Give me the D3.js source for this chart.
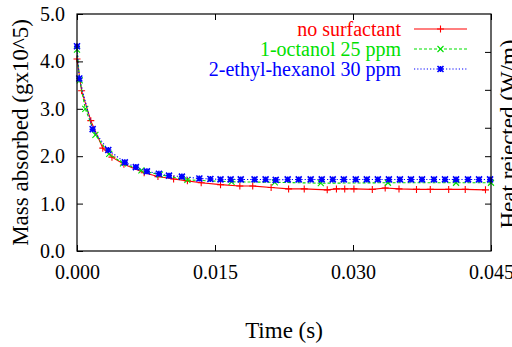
<!DOCTYPE html>
<html><head><meta charset="utf-8">
<script src="https://cdn.jsdelivr.net/npm/d3@7"></script>
<style>
html,body{margin:0;padding:0;background:#fff;}
svg text{font-family:"Liberation Serif","Times New Roman",Times,serif !important;}
</style></head>
<body><svg id="c" width="512" height="347" font-family="Liberation Serif, Times New Roman, serif"></svg>
<script>
// time in ms, values in g x10^5
const redT = [0,0.5,1.5,2.8,3.8,5.1,7.3,8.8,10.5,12.0,13.5,15.6,17.7,19.1,21.1,23.0,24.7,27.2,28.2,29.1,30.1,32.1,33.5,35.0,36.9,38.4,40.4,42.2,44.4];
const redV = [4.05,3.38,2.75,2.17,1.98,1.83,1.65,1.57,1.52,1.48,1.44,1.40,1.37,1.37,1.34,1.31,1.31,1.29,1.31,1.31,1.31,1.30,1.33,1.31,1.30,1.30,1.30,1.30,1.29];
const greenT = [0,0.3,0.9,2.0,3.5,5.0,7.0,9.0,12.0,16.8,21.5,26.5,33.8,41.2,45.0];
const greenV = [4.25,3.60,3.00,2.45,2.05,1.85,1.70,1.61,1.50,1.46,1.45,1.43,1.44,1.44,1.44];
const blueT = [0,0.25,1.7,3.4,5.2,6.4,7.6,8.9,10.0,11.4,13.3,14.5,15.6,16.7,17.8,19.3,20.5,21.6,22.9,24.1,25.4,26.6,27.8,29.0,30.3,31.5,32.7,33.9,35.1,36.3,37.5,38.8,40.0,41.2,42.5,43.7,44.9];
const blueV = [4.32,3.64,2.57,2.13,1.87,1.77,1.68,1.63,1.59,1.57,1.53,1.52,1.51,1.51,1.51,1.51,1.51,1.50,1.51,1.51,1.51,1.51,1.51,1.51,1.51,1.51,1.51,1.51,1.51,1.51,1.51,1.51,1.51,1.51,1.51,1.51,1.51];
const seriesNames = ["no surfactant","1-octanol 25 ppm","2-ethyl-hexanol 30 ppm"];
const xTicks = [0,0.015,0.030,0.045];
const yTicks = [0,1,2,3,4,5];
const y2Ticks = [1.0,2.0,2.6,3.4,4.2];

const svg = d3.select("#c");
const L=77,R=491,T=14,B=251;
const x = d3.scaleLinear().domain([0,0.045]).range([L,R]);
const y = d3.scaleLinear().domain([0,5]).range([B,T]);

const series = [
  {name:seriesNames[0], t:redT, v:redV, color:"#ff0000", dash:null, mk:"plus"},
  {name:seriesNames[1], t:greenT, v:greenV, color:"#00e000", dash:"3,2", mk:"cross"},
  {name:seriesNames[2], t:blueT, v:blueV, color:"#0000ff", dash:"1.2,2", mk:"star"}
];

function marker(g, type, cx, cy, color){
  const s = type==="plus"?3.5:3;
  let d="";
  if(type==="plus"||type==="star") d+=`M${cx-s},${cy}H${cx+s}M${cx},${cy-s}V${cy+s}`;
  if(type==="cross"||type==="star") d+=`M${cx-s},${cy-s}L${cx+s},${cy+s}M${cx-s},${cy+s}L${cx+s},${cy-s}`;
  g.append("path").attr("d",d).attr("stroke",color).attr("stroke-width",type==="star"?1.6:1.1).attr("fill","none");
}

const line = d3.line().x(d=>x(d[0]/1000)).y(d=>y(d[1]));
series.forEach(s=>{
  const pts = s.t.map((t,i)=>[t,s.v[i]]);
  svg.append("path").datum(pts).attr("d",line).attr("fill","none")
    .attr("stroke",s.color).attr("stroke-width",1.1).attr("stroke-dasharray",s.dash);
  const g = svg.append("g");
  pts.forEach(p=>marker(g,s.mk,x(p[0]/1000),y(p[1]),s.color));
});

// frame
svg.append("rect").attr("x",L).attr("y",T).attr("width",R-L).attr("height",B-T)
  .attr("fill","none").attr("stroke","#000").attr("stroke-width",1.2);

// axes
const fmtX = d3.format(".3f"), fmtY = d3.format(".1f");
const ax = svg.append("g").attr("transform",`translate(0,${B})`)
  .call(d3.axisBottom(x).tickValues(xTicks).tickSize(-6).tickPadding(14).tickFormat(fmtX));
const axT = svg.append("g").attr("transform",`translate(0,${T})`)
  .call(d3.axisTop(x).tickValues(xTicks).tickSize(-6).tickFormat(""));
const ay = svg.append("g").attr("transform",`translate(${L},0)`)
  .call(d3.axisLeft(y).tickValues(yTicks).tickSize(-6).tickPadding(12).tickFormat(fmtY));
const ay2 = svg.append("g").attr("transform",`translate(${R},0)`)
  .call(d3.axisRight(y).tickValues(y2Ticks).tickSize(-6).tickFormat(""));
[ax,axT,ay,ay2].forEach(a=>{
  a.attr("font-family",null);
  a.select(".domain").remove();
  a.selectAll("line").attr("stroke","#000");
  a.selectAll("text").attr("font-size",20).attr("fill","#000");
});

// axis titles
svg.append("text").attr("x",(L+R)/2).attr("y",338).attr("text-anchor","middle")
  .attr("font-size",23).text("Time (s)");
svg.append("text").attr("transform",`translate(28,${(T+B)/2}) rotate(-90)`)
  .attr("text-anchor","middle").attr("font-size",23).text("Mass absorbed (gx10^5)");
svg.append("text").attr("transform",`translate(516,134) rotate(-90)`)
  .attr("text-anchor","middle").attr("font-size",23).text("Heat rejected (W/m)");

// legend
const legY=[29,49,69];
series.forEach((s,i)=>{
  svg.append("text").attr("x",401).attr("y",legY[i]).attr("dy","0.35em")
    .attr("text-anchor","end").attr("font-size",20).attr("fill",s.color).text(s.name);
  svg.append("line").attr("x1",414).attr("x2",467).attr("y1",legY[i]).attr("y2",legY[i])
    .attr("stroke",s.color).attr("stroke-width",1.1).attr("stroke-dasharray",s.dash);
  marker(svg,s.mk,440.5,legY[i],s.color);
});
</script></body></html>
